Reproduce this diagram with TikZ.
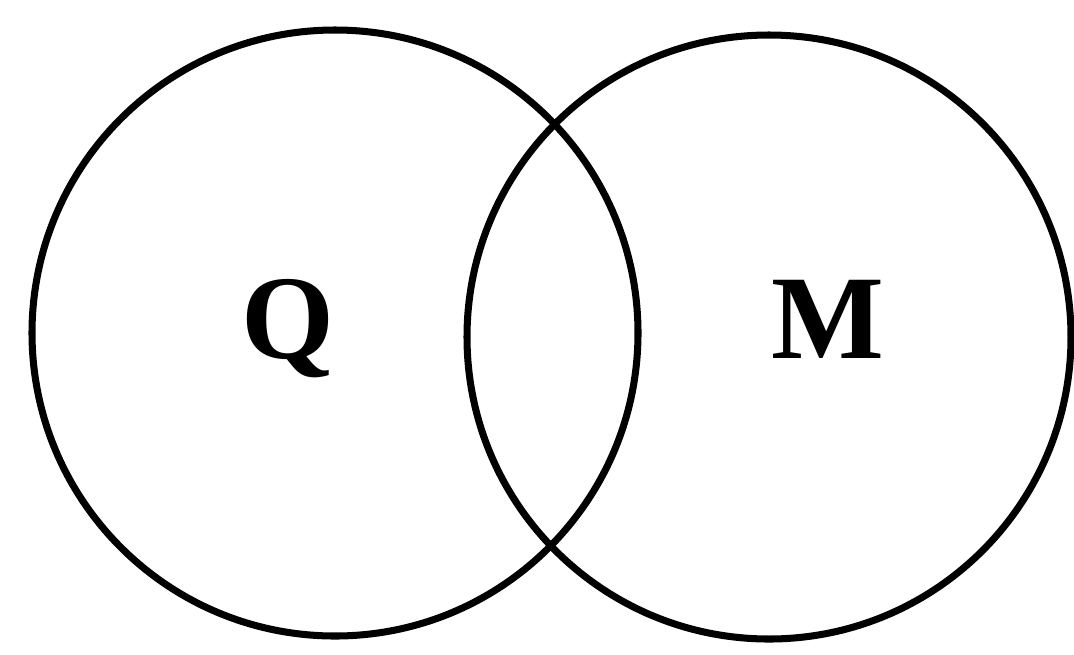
\documentclass[tikz,border=0pt]{standalone}
\usepackage{fontspec}
\setmainfont{Liberation Serif}
\usepackage{tikz}
\usetikzlibrary{positioning}

\begin{document}
\begin{tikzpicture}[
  setcircle/.style={circle, draw=black, line width=2pt, inner sep=0pt},
  lab/.style={font=\fontsize{34}{34}\selectfont\bfseries, text=black, anchor=base}
]
\useasboundingbox (0,0) rectangle (10.74,6.54);
\node[setcircle, minimum size=6.06cm] (setQ) at (3.35,3.21) {};
\node[setcircle, minimum size=6.04cm] (setM) at (7.69,3.17) {};

\node[lab] (labQ) at (2.88,2.96) {Q};
\node[lab] (labM) at (8.28,2.96) {M};
\end{tikzpicture}
\end{document}
